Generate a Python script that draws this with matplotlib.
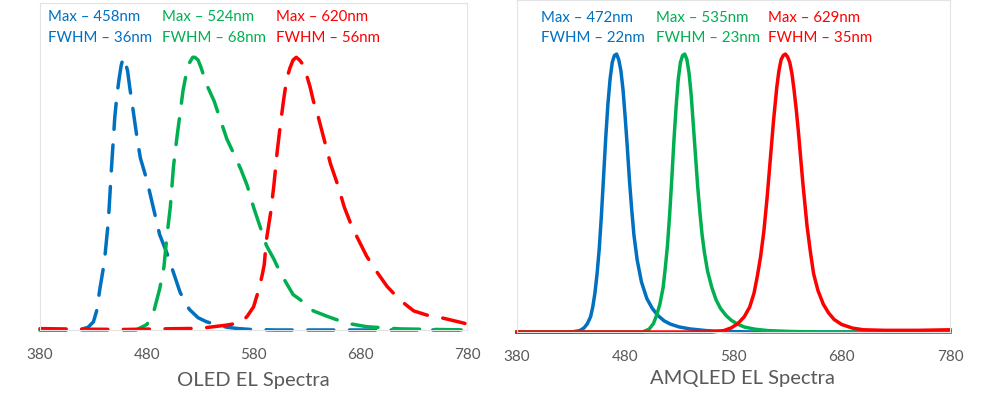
import matplotlib
matplotlib.use('Agg')
import matplotlib.pyplot as plt

plt.rcParams['font.family'] = ['Lato', 'DejaVu Sans']

BLUE, GREEN, RED = '#0070C0', '#00B050', '#FF0000'
GRAY_TXT = '#595959'
FRAME = '#E3E3E3'

TICKS = [380, 480, 580, 680, 780]

# --- OLED (left), normalized intensity ---
oled_blue_wl = [380, 417, 425, 430, 433, 436, 439, 441, 444, 447, 450, 452, 454, 456, 458,
                460, 462, 464, 467, 471, 474, 477, 480, 486, 492, 499, 505, 511, 516, 520,
                528, 536, 545, 555, 566, 577, 600, 650, 700, 780]
oled_blue_i = [0.0, 0.0, 0.01, 0.03, 0.07, 0.15, 0.22, 0.28, 0.40, 0.60, 0.78, 0.86, 0.92, 0.97, 1.0,
               0.98, 0.95, 0.89, 0.81, 0.70, 0.63, 0.59, 0.55, 0.45, 0.35, 0.28, 0.21, 0.14, 0.10, 0.075,
               0.045, 0.03, 0.02, 0.01, 0.005, 0.002, 0.0, 0.0, 0.0, 0.0]

oled_green_wl = [380, 470, 480, 486, 492, 496, 499, 502, 505, 508, 511, 514, 517, 520, 523, 525,
                 528, 531, 536, 543, 549, 555, 561, 568, 574, 580, 586, 592, 599, 605, 611, 617,
                 624, 636, 649, 667, 686, 717, 750, 780]
oled_green_i = [0.0, 0.0, 0.02, 0.06, 0.15, 0.23, 0.35, 0.45, 0.60, 0.70, 0.79, 0.88, 0.94, 0.98, 1.0, 1.0,
                0.99, 0.96, 0.90, 0.84, 0.77, 0.70, 0.65, 0.59, 0.53, 0.45, 0.38, 0.31, 0.26, 0.21, 0.17, 0.13,
                0.11, 0.07, 0.05, 0.025, 0.012, 0.004, 0.002, 0.0]

oled_red_wl = [380, 420, 460, 492, 530, 555, 568, 574, 580, 585, 588, 590, 592, 596, 599, 602,
               605, 608, 611, 614, 617, 620, 623, 627, 630, 633, 636, 640, 646, 652, 659, 665,
               671, 677, 686, 696, 705, 717, 730, 742, 758, 774, 778]
oled_red_i = [0.005, 0.003, 0.002, 0.004, 0.006, 0.018, 0.027, 0.05, 0.085, 0.15, 0.20, 0.24, 0.33, 0.43, 0.53, 0.65,
              0.75, 0.84, 0.92, 0.96, 0.99, 1.0, 0.99, 0.97, 0.93, 0.89, 0.84, 0.79, 0.70, 0.61, 0.53, 0.45,
              0.39, 0.34, 0.27, 0.21, 0.16, 0.11, 0.07, 0.055, 0.043, 0.028, 0.024]

# --- AMQLED (right) ---
qled_blue_wl = [380, 430, 438, 442, 445, 448, 450, 452, 454, 456, 458, 460, 462, 464, 466, 468,
                470, 472, 474, 476, 478, 480, 482, 484, 486, 488, 491, 495, 500, 505, 510, 516,
                522, 530, 540, 555, 571, 600, 780]
qled_blue_i = [0.0, 0.0, 0.005, 0.015, 0.03, 0.055, 0.09, 0.14, 0.21, 0.30, 0.42, 0.56, 0.70, 0.82, 0.91, 0.97,
               0.995, 1.0, 0.98, 0.94, 0.87, 0.77, 0.66, 0.54, 0.44, 0.35, 0.26, 0.18, 0.12, 0.085, 0.06, 0.04,
               0.028, 0.018, 0.011, 0.005, 0.002, 0.0, 0.0]

qled_green_wl = [380, 496, 502, 506, 509, 512, 515, 517, 519, 521, 523, 525, 527, 529, 531, 533,
                 535, 537, 539, 541, 543, 545, 547, 549, 551, 553, 556, 560, 564, 568, 573, 578,
                 584, 590, 600, 612, 632, 660, 780]
qled_green_i = [0.0, 0.0, 0.01, 0.03, 0.06, 0.10, 0.16, 0.23, 0.31, 0.42, 0.55, 0.69, 0.81, 0.91, 0.97, 0.995,
                1.0, 0.98, 0.93, 0.85, 0.74, 0.63, 0.52, 0.43, 0.35, 0.29, 0.22, 0.16, 0.115, 0.085, 0.06, 0.042,
                0.028, 0.018, 0.01, 0.005, 0.002, 0.0, 0.0]

qled_red_wl = [380, 560, 571, 578, 584, 590, 595, 599, 602, 605, 608, 611, 614, 617, 620, 622,
               624, 626, 628, 630, 632, 634, 636, 638, 640, 642, 644, 646, 648, 651, 654, 658,
               663, 668, 673, 680, 690, 700, 720, 750, 780]
qled_red_i = [0.0, 0.0, 0.005, 0.015, 0.03, 0.055, 0.09, 0.14, 0.20, 0.27, 0.36, 0.48, 0.62, 0.76, 0.88, 0.94,
              0.98, 0.995, 1.0, 0.99, 0.97, 0.93, 0.87, 0.80, 0.72, 0.63, 0.54, 0.46, 0.38, 0.29, 0.21, 0.15,
              0.10, 0.068, 0.045, 0.027, 0.014, 0.008, 0.006, 0.006, 0.008]

oled_labels = [('Max – 458nm', 'FWHM – 36nm', BLUE),
               ('Max – 524nm', 'FWHM – 68nm', GREEN),
               ('Max – 620nm', 'FWHM – 56nm', RED)]
qled_labels = [('Max – 472nm', 'FWHM – 22nm', BLUE),
               ('Max – 535nm', 'FWHM – 23nm', GREEN),
               ('Max – 629nm', 'FWHM – 35nm', RED)]


def style_axes(ax, ytop):
    ax.set_xlim(380, 780)
    ax.set_ylim(0, ytop)
    ax.set_xticks(TICKS)
    ax.set_yticks([])
    ax.tick_params(axis='x', length=0, pad=13, labelsize=11, labelcolor=GRAY_TXT)
    for sp in ax.spines.values():
        sp.set_color(FRAME)
        sp.set_linewidth(0.8)


def put_labels(ax, labels, xs, y0):
    for (l1, l2, c), x in zip(labels, xs):
        ax.text(x, y0, l1, transform=ax.transAxes, color=c, fontsize=10.8, va='top', ha='left')
        ax.text(x, y0 - 0.062, l2, transform=ax.transAxes, color=c, fontsize=10.8, va='top', ha='left')


fig = plt.figure(figsize=(9.84, 3.96), dpi=100)
ax1 = fig.add_axes([0.0407, 0.1667, 0.434, 0.825])
ax2 = fig.add_axes([0.5254, 0.1616, 0.440, 0.838])

dash = (0, (7.5, 4.5))
for wl, inten, c in [(oled_blue_wl, oled_blue_i, BLUE), (oled_green_wl, oled_green_i, GREEN),
                     (oled_red_wl, oled_red_i, RED)]:
    ax1.plot(wl, inten, color=c, lw=2.5, linestyle=dash, dash_capstyle='round', clip_on=False)
style_axes(ax1, 1.198)
put_labels(ax1, oled_labels, [0.018, 0.285, 0.553], 0.978)

for wl, inten, c in [(qled_blue_wl, qled_blue_i, BLUE), (qled_green_wl, qled_green_i, GREEN),
                     (qled_red_wl, qled_red_i, RED)]:
    ax2.plot(wl, inten, color=c, lw=2.5, solid_joinstyle='round', clip_on=False)
style_axes(ax2, 1.194)
put_labels(ax2, qled_labels, [0.055, 0.32, 0.58], 0.968)

fig.text(0.257, 0.04, 'OLED EL Spectra', ha='center', va='center', fontsize=14.5, color=GRAY_TXT)
fig.text(0.755, 0.045, 'AMQLED EL Spectra', ha='center', va='center', fontsize=14.5, color=GRAY_TXT)

fig.savefig('out.png', dpi=100)
